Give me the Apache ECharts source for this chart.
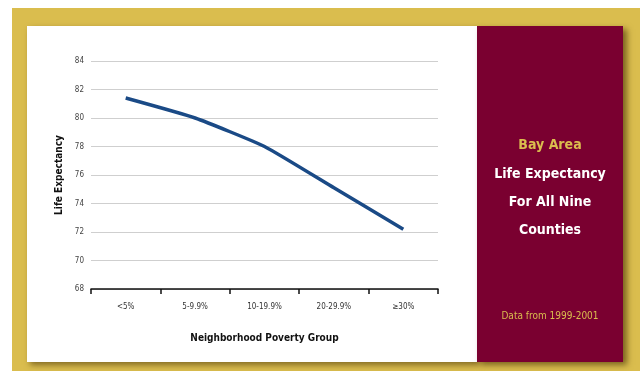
<!DOCTYPE html>
<html>
<head>
<meta charset="utf-8">
<script src="https://cdn.jsdelivr.net/npm/echarts@6/dist/echarts.min.js"></script>
<style>
  html, body { margin: 0; padding: 0; background: #ffffff; }
  #chart { width: 640px; height: 371px; }
</style>
</head>
<body>
<div id="chart"></div>
<script>
// Poverty groups along the x axis
const categories = ['<5%', '5-9.9%', '10-19.9%', '20-29.9%', '≥30%'];
// Life expectancy (years) for each group
const lifeExpectancy = [81.4, 80.0, 78.0, 75.1, 72.2];
// Y axis range and step
const yMin = 68;
const yMax = 84;
const yStep = 2;

const gold = '#dabd4e';
const maroon = '#7a0030';
const narrow = '"Liberation Sans Narrow", "DejaVu Sans Condensed", sans-serif';

const chart = echarts.init(document.getElementById('chart'), null, { renderer: 'canvas' });

chart.setOption({
  animation: false,
  backgroundColor: '#ffffff',
  graphic: [
    // gold frame
    { type: 'rect', z: -10, shape: { x: 12, y: 8, width: 640, height: 371 }, style: { fill: gold } },
    // white chart panel
    { type: 'rect', z: -9, shape: { x: 27, y: 26, width: 450, height: 336 },
      style: { fill: '#ffffff', shadowBlur: 6, shadowColor: 'rgba(60,40,0,0.55)', shadowOffsetX: 3, shadowOffsetY: 3 } },
    // maroon title panel
    { type: 'rect', z: -8, shape: { x: 477, y: 26, width: 146, height: 336 },
      style: { fill: maroon, shadowBlur: 6, shadowColor: 'rgba(60,40,0,0.6)', shadowOffsetX: 4, shadowOffsetY: 3 } },
    { type: 'text', z: 5, x: 550, y: 145, style: { text: 'Bay Area', fill: gold, font: 'bold 14px ' + narrow, align: 'center', verticalAlign: 'middle' } },
    { type: 'text', z: 5, x: 550, y: 174, style: { text: 'Life Expectancy', fill: '#ffffff', font: 'bold 14px ' + narrow, align: 'center', verticalAlign: 'middle' } },
    { type: 'text', z: 5, x: 550, y: 202, style: { text: 'For All Nine', fill: '#ffffff', font: 'bold 14px ' + narrow, align: 'center', verticalAlign: 'middle' } },
    { type: 'text', z: 5, x: 550, y: 230, style: { text: 'Counties', fill: '#ffffff', font: 'bold 14px ' + narrow, align: 'center', verticalAlign: 'middle' } },
    { type: 'text', z: 5, x: 550, y: 316, style: { text: 'Data from 1999-2001', fill: gold, font: '10px ' + narrow, align: 'center', verticalAlign: 'middle' } }
  ],
  grid: { left: 91, right: 202, top: 61, bottom: 82, containLabel: false },
  xAxis: {
    type: 'category',
    data: categories,
    boundaryGap: true,
    name: 'Neighborhood Poverty Group',
    nameLocation: 'middle',
    nameGap: 44,
    nameTextStyle: { color: '#111', fontFamily: narrow, fontWeight: 'bold', fontSize: 10 },
    axisLine: { lineStyle: { color: '#111', width: 1.5 } },
    axisTick: { show: true, length: 5, lineStyle: { color: '#111', width: 1.5 } },
    axisLabel: { color: '#333', fontFamily: narrow, fontSize: 8, margin: 14 }
  },
  yAxis: {
    type: 'value',
    min: yMin,
    max: yMax,
    interval: yStep,
    name: 'Life Expectancy',
    nameLocation: 'middle',
    nameGap: 27,
    nameRotate: 90,
    nameTextStyle: { color: '#111', fontFamily: narrow, fontWeight: 'bold', fontSize: 10 },
    axisLine: { show: false },
    axisTick: { show: false },
    axisLabel: { color: '#444', fontFamily: narrow, fontSize: 8, margin: 7 },
    splitLine: { lineStyle: { color: '#cfcfcf', width: 1 } }
  },
  series: [{
    type: 'line',
    data: lifeExpectancy,
    showSymbol: false,
    smooth: 0.15,
    lineStyle: { color: '#1a4a86', width: 3.5 },
    z: 3
  }]
});
</script>
</body>
</html>
